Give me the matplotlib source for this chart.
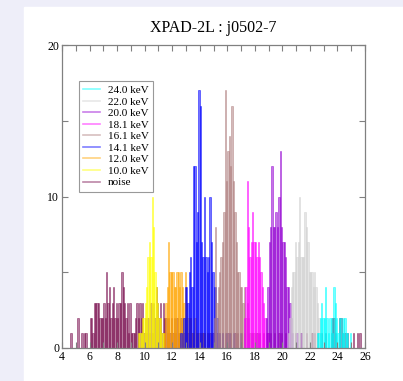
import matplotlib
matplotlib.use('Agg')
import matplotlib.pyplot as plt
import numpy as np
from matplotlib.lines import Line2D
from matplotlib.patches import Rectangle
from matplotlib.ticker import MultipleLocator

# ── data: counts per 0.1 keV bin, first bin edge given by *_start ──
BIN = 0.1

noise_start = 4.5
noise = [0, 1, 0, 0, 0, 0, 2, 0, 0, 1,
         0, 1, 1, 0, 0, 2, 2, 1, 3, 3,
         3, 3, 2, 2, 2, 3, 2, 5, 3, 4,
         2, 3, 4, 2, 3, 2, 3, 3, 5, 4,
         3, 2, 3, 1, 3, 1, 1, 1, 2, 3,
         2, 3, 2, 3, 1, 2, 1, 2, 1, 3,
         1, 3, 2, 4, 3, 2, 3, 1, 3, 2,
         2, 1, 2, 1, 2, 1, 2, 1, 2, 1,
         1, 2, 1, 1, 2, 1, 1, 1, 2, 1,
         1, 0, 1, 1, 0, 1, 0, 1, 1, 0,
         1, 0, 1, 0, 1, 1, 0, 1, 0, 1,
         0, 1, 0, 1, 0, 1, 0, 1, 0, 0,
         1, 0, 1, 0, 0, 1, 0, 1, 0, 0,
         1, 0, 0, 1, 0, 0, 1, 0, 1, 0,
         0, 1, 0, 0, 1, 0, 1, 0, 0, 1,
         0, 0, 1, 0, 1, 0, 0, 1, 0, 0,
         0, 1, 0, 0, 1, 0, 0, 0, 1, 0,
         0, 0, 1, 0, 0, 0, 1, 0, 1, 0,
         1, 0, 0, 1, 0, 0, 1, 0, 0, 0,
         1, 2, 2, 1, 0, 0, 2, 2, 1, 0,
         1, 0, 1, 0, 0, 0, 1, 0, 0, 1,
         0, 1]

e10_start = 9.5
e10 = [1, 1, 1, 2, 2, 3, 4, 6, 7, 6, 10, 8, 5, 4, 3, 2, 2, 1, 1]

e12_start = 11.4
e12 = [1, 3, 4, 7, 5, 5, 5, 4, 4, 5, 5, 4, 5, 4, 3, 5, 3, 2, 2, 2,
       1, 1, 2, 1, 1, 1, 1, 1, 1, 1, 0, 1]

e14_start = 12.6
e14 = [1, 0, 2, 4, 4, 3, 5, 6, 4, 12, 12, 7, 9, 17, 16, 7, 6, 10, 6, 5,
       6, 10, 7, 5, 4, 4, 2, 1, 1, 0, 1, 0, 0, 1, 0, 1, 0, 0, 1, 0,
       0, 0, 0, 1]

e16_start = 15.0
e16 = [2, 8, 3, 4, 5, 6, 7, 9, 17, 11, 13, 14, 12, 16, 11, 9, 7, 5, 5, 4,
       4, 3, 4, 2, 3, 2, 1, 1, 1, 1, 1]

e18_start = 17.2
e18 = [2, 4, 11, 8, 6, 7, 9, 7, 7, 6, 7, 6, 5, 4, 3, 2, 1, 1]

e20_start = 18.8
e20 = [2, 4, 7, 8, 12, 8, 8, 9, 8, 10, 13, 8, 7, 7, 6, 4, 4, 3, 2, 1,
       0, 0, 1, 0, 0, 1]

e22_start = 20.4
e22 = [1, 2, 4, 5, 5, 7, 6, 7, 10, 6, 6, 6, 9, 8, 7, 5, 5, 5, 4, 5,
       4, 3, 2, 1]

e24_start = 22.5
e24 = [1, 1, 2, 3, 2, 2, 4, 2, 1, 2, 2, 1, 4, 3, 2, 1, 2, 2, 1, 2,
       2, 1, 1, 0, 1]

labels = ['noise', '10.0 keV', '12.0 keV', '14.1 keV', '16.1 keV',
          '18.1 keV', '20.0 keV', '22.0 keV', '24.0 keV']
series = [(noise_start, noise), (e10_start, e10), (e12_start, e12),
          (e14_start, e14), (e16_start, e16), (e18_start, e18),
          (e20_start, e20), (e22_start, e22), (e24_start, e24)]
colors = ['#7a1050', '#ffff00', '#ffa500', '#0000ff', '#b08080',
          '#ff00ff', '#9400d3', '#d0d0d0', '#00ffff']

plt.rcParams['font.family'] = ['Liberation Serif', 'DejaVu Serif']

fig = plt.figure(figsize=(4.03, 3.81), dpi=100, facecolor='#eeeef9')
# white panel behind the axes (lavender strip left and top)
fig.patches.append(Rectangle((24 / 403, 0), 1, (381 - 7) / 381,
                             transform=fig.transFigure, color='white', zorder=-5))
ax = fig.add_axes([62 / 403, 33 / 381, 303 / 403, 303 / 381])
ax.set_zorder(1)

for (start, counts), c in zip(series, colors):
    counts = np.array(counts)
    x = start + BIN * np.arange(len(counts))
    ax.bar(x, counts, width=BIN, align='edge', color=c, alpha=0.55,
           edgecolor=c, linewidth=0.6)

ax.set_xlim(4, 26)
ax.set_ylim(0, 20)
ax.xaxis.set_major_locator(MultipleLocator(2))
ax.xaxis.set_minor_locator(MultipleLocator(1))
ax.yaxis.set_major_locator(MultipleLocator(10))
ax.yaxis.set_minor_locator(MultipleLocator(5))
ax.tick_params(which='both', direction='in', top=True, right=True,
               length=4.5, width=0.8, color='#808080', labelsize=8.5, pad=2)
for s in ax.spines.values():
    s.set_color('#808080')
    s.set_linewidth(0.9)

ax.set_title('XPAD-2L : j0502-7', fontsize=11.5, pad=9)

handles = [Line2D([], [], color=c, alpha=0.5, lw=1.2) for c in colors]
leg = ax.legend(handles[::-1], labels[::-1], loc='upper left',
                bbox_to_anchor=(0.056, 0.882), fontsize=8, frameon=True,
                fancybox=False, edgecolor='#808080', handlelength=1.5,
                labelspacing=0.16, borderpad=0.4, handletextpad=0.7,
                borderaxespad=0)
leg.get_frame().set_linewidth(0.8)

fig.savefig('out.png', dpi=100)
